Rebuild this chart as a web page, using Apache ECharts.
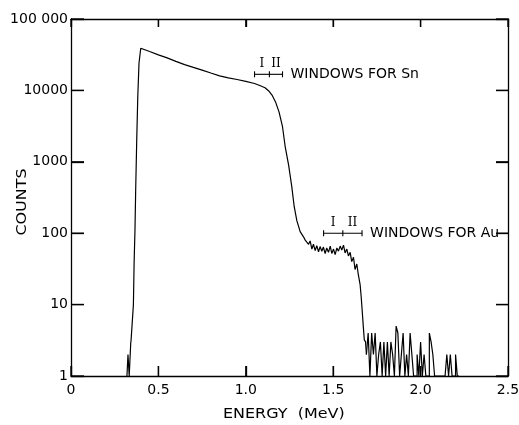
<!DOCTYPE html>
<html><head><meta charset="utf-8">
<script src="https://cdn.jsdelivr.net/npm/echarts@6/dist/echarts.min.js"></script>
<style>html,body{margin:0;padding:0;background:#fff}#c{width:519px;height:425px}</style>
</head><body><div id="c"></div>
<script>
// ---- axis ticks ----
const xTickValues = [0, 0.5, 1, 1.5, 2, 2.5];
const xTickLabels = ['0', '0.5', '1.0', '1.5', '2.0', '2.5'];
const yTickValues = [1, 10, 100, 1000, 10000, 100000];
const yTickLabels = ['1', '10', '100', '1000', '10000', '100 000'];

// ---- leading-edge histogram bins (energy MeV, counts) ----
const leadEnergy = [0.32, 0.326, 0.333, 0.342, 0.343];
const leadCounts = [1, 2, 1, 3, 3];

// ---- main spectrum (energy MeV, counts) ----
const mainEnergy = [0.343, 0.353, 0.357, 0.361, 0.366, 0.370, 0.376, 0.382, 0.389, 0.399,
  0.408, 0.45, 0.50, 0.55, 0.60, 0.65, 0.70, 0.75, 0.80, 0.85,
  0.90, 0.95, 1.00, 1.05, 1.08, 1.11, 1.13, 1.15, 1.17, 1.19,
  1.21, 1.225, 1.245, 1.263, 1.277, 1.292, 1.311, 1.330, 1.340, 1.349,
  1.359, 1.368, 1.378, 1.387, 1.397, 1.406, 1.416, 1.425, 1.435, 1.444,
  1.454, 1.463, 1.473, 1.483, 1.492, 1.502, 1.511, 1.521, 1.530, 1.540,
  1.549, 1.559, 1.568, 1.578, 1.587, 1.597, 1.606, 1.616, 1.625, 1.635,
  1.644, 1.654, 1.660, 1.667, 1.672, 1.678, 1.685, 1.69];
const mainCounts = [3, 3, 10, 38, 111, 400, 2000, 8100, 24000, 39000,
  41000, 35000, 31500, 28500, 25500, 23000, 21000, 19200, 17500, 16000,
  15000, 14200, 13400, 12500, 11700, 10900, 9900, 8600, 6900, 5000,
  3100, 1650, 900, 450, 235, 150, 105, 89, 80, 76,
  70, 78, 60, 70, 57, 67, 55, 65, 56, 64,
  52, 62, 54, 66, 52, 60, 50, 62, 56, 66,
  58, 68, 53, 60, 48, 54, 40, 46, 31, 37,
  26, 19, 13, 7.5, 5, 3.2, 3, 2];

// ---- tail histogram bins (bin start energy MeV, counts; 1 = axis floor) ----
const tailEnergy = [1.69, 1.70, 1.71, 1.72, 1.73, 1.74, 1.75, 1.76, 1.77, 1.78,
  1.79, 1.80, 1.81, 1.82, 1.83, 1.84, 1.85, 1.86, 1.87, 1.88,
  1.89, 1.90, 1.91, 1.92, 1.93, 1.94, 1.95, 1.96, 1.97, 1.98,
  1.99, 2.00, 2.01, 2.02, 2.03, 2.04, 2.05, 2.06, 2.07, 2.08,
  2.09, 2.10, 2.11, 2.12, 2.13, 2.14, 2.15, 2.16, 2.17, 2.18,
  2.19, 2.20, 2.21, 2.22];
const tailCounts = [2, 4, 1, 4, 2, 4, 1, 2, 3, 1,
  3, 1, 3, 1, 3, 2, 1, 5, 4, 1,
  2, 4, 1, 2, 1, 4, 2, 1, 1, 2,
  1, 3, 1, 2, 1, 1, 4, 3, 2, 1,
  1, 1, 1, 1, 1, 1, 2, 1, 2, 1,
  1, 2, 1, 1];

// ---- energy windows ----
const windowLabels = ['WINDOWS FOR Sn', 'WINDOWS FOR Au'];
const windowStart = [1.05, 1.445];
const windowMid = [1.135, 1.555];
const windowEnd = [1.21, 1.665];
const windowLevel = [16800, 100];

const FONT = '"DejaVu Sans", sans-serif';
const chart = echarts.init(document.getElementById('c'), null, {renderer: 'canvas'});
const ls = () => ({color: '#000', width: 1.3});
const X_MIN = 0, X_MAX = 2.5, Y_MIN = 1, Y_MAX = 100000;

function xFmt(v) { const i = xTickValues.findIndex(t => Math.abs(t - v) < 1e-9); return i >= 0 ? xTickLabels[i] : ''; }
function yFmt(v) { const i = yTickValues.findIndex(t => Math.abs(Math.log10(t) - Math.log10(v)) < 1e-6); return i >= 0 ? yTickLabels[i] : ''; }

const pair = (xs, ys) => xs.map((x, i) => [x, ys[i]]);

chart.setOption({
  animation: false,
  backgroundColor: '#fff',
  grid: {left: 71, top: 19, width: 437, height: 357, containLabel: false, outerBoundsMode: 'none'},
  xAxis: [
    {type: 'value', min: X_MIN, max: X_MAX, interval: 0.5, position: 'bottom',
     axisLine: {show: true, onZero: false, lineStyle: ls()},
     axisTick: {show: true, inside: true, length: 10, lineStyle: ls()},
     axisLabel: {show: true, formatter: xFmt, margin: 7, color: '#000', fontSize: 14, fontFamily: FONT},
     splitLine: {show: false}},
    {type: 'value', min: X_MIN, max: X_MAX, interval: 0.5, position: 'top',
     axisLine: {show: true, onZero: false, lineStyle: ls()},
     axisTick: {show: true, inside: true, length: 8, lineStyle: ls()},
     axisLabel: {show: false}, splitLine: {show: false}}
  ],
  yAxis: [
    {type: 'log', logBase: 10, min: Y_MIN, max: Y_MAX, position: 'left',
     axisLine: {show: true, onZero: false, lineStyle: ls()},
     axisTick: {show: true, inside: true, length: 13, lineStyle: ls()},
     axisLabel: {show: true, formatter: yFmt, margin: 3, color: '#000', fontSize: 14, fontFamily: FONT},
     splitLine: {show: false}},
    {type: 'log', logBase: 10, min: Y_MIN, max: Y_MAX, position: 'right',
     axisLine: {show: true, onZero: false, lineStyle: ls()},
     axisTick: {show: true, inside: true, length: 12, lineStyle: ls()},
     axisLabel: {show: false}, splitLine: {show: false}}
  ],
  graphic: [
    {type: 'text', x: 223, y: 407, scaleX: 1.14, style: {text: 'ENERGY  (MeV)', font: '14px ' + FONT, fill: '#000'}},
    {type: 'text', x: 22, y: 202, rotation: Math.PI / 2, scaleX: 1.14, style: {text: 'COUNTS', font: '14px ' + FONT, fill: '#000', align: 'center', verticalAlign: 'middle'}}
  ],
  series: [
    // tick marks on all four sides, placed through the axes' own scales
    {type: 'custom', silent: true, clip: false, data: [[X_MIN, Y_MIN]],
     renderItem(params, api) {
       const st = {stroke: '#000', lineWidth: 1.3};
       const kids = [];
       xTickValues.forEach(v => {
         const b = api.coord([v, Y_MIN]), t = api.coord([v, Y_MAX]);
         kids.push({type: 'line', shape: {x1: b[0], y1: b[1], x2: b[0], y2: b[1] - 10}, style: st});
         kids.push({type: 'line', shape: {x1: t[0], y1: t[1], x2: t[0], y2: t[1] + 8}, style: st});
       });
       yTickValues.forEach(v => {
         const l = api.coord([X_MIN, v]), r = api.coord([X_MAX, v]);
         kids.push({type: 'line', shape: {x1: l[0], y1: l[1], x2: l[0] + 13, y2: l[1]}, style: st});
         kids.push({type: 'line', shape: {x1: r[0], y1: r[1], x2: r[0] - 12, y2: r[1]}, style: st});
       });
       return {type: 'group', children: kids};
     }},
    {type: 'line', step: 'end', symbol: 'none', data: pair(leadEnergy, leadCounts),
     lineStyle: {color: '#000', width: 1.2}, silent: true},
    {type: 'line', symbol: 'none', data: pair(mainEnergy, mainCounts),
     lineStyle: {color: '#000', width: 1.2}, silent: true},
    {type: 'line', step: 'end', symbol: 'none', data: pair(tailEnergy, tailCounts),
     lineStyle: {color: '#000', width: 1.2}, silent: true},
    {type: 'custom', silent: true,
     data: windowStart.map((s, i) => [s, windowMid[i], windowEnd[i], windowLevel[i]]),
     renderItem(params, api) {
       const lvl = api.value(3);
       const p1 = api.coord([api.value(0), lvl]);
       const pm = api.coord([api.value(1), lvl]);
       const p2 = api.coord([api.value(2), lvl]);
       const st = {stroke: '#000', lineWidth: 1.1};
       const tick = p => ({type: 'line', shape: {x1: p[0], y1: p[1] - 3, x2: p[0], y2: p[1] + 3}, style: st});
       const i = params.dataIndex;
       return {type: 'group', children: [
         {type: 'line', shape: {x1: p1[0], y1: p1[1], x2: p2[0], y2: p2[1]}, style: st},
         tick(p1), tick(pm), tick(p2),
         {type: 'text', style: {text: 'I', x: (p1[0] + pm[0]) / 2, y: p1[1] - 10, align: 'center', verticalAlign: 'middle', font: '12px "DejaVu Serif", serif', fill: '#000'}},
         {type: 'text', style: {text: 'II', x: (pm[0] + p2[0]) / 2, y: p1[1] - 10, align: 'center', verticalAlign: 'middle', font: '12px "DejaVu Serif", serif', fill: '#000'}},
         {type: 'text', style: {text: windowLabels[i], x: p2[0] + 8, y: p1[1], align: 'left', verticalAlign: 'middle', font: '14px ' + FONT, fill: '#000'}}
       ]};
     }}
  ]
});
</script>
</body></html>
